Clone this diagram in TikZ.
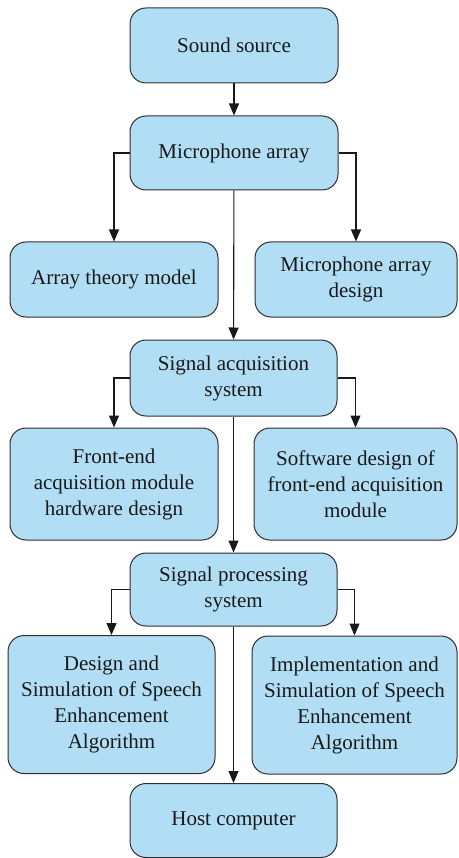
\documentclass[tikz,border=0pt]{standalone}
\usepackage{fontspec}
\setmainfont{Liberation Serif}
\usepackage{xcolor}
\usepackage{tikz}
\usetikzlibrary{arrows.meta, positioning, calc}
\definecolor{boxblue}{RGB}{178, 222, 245}
\definecolor{edgegray}{RGB}{45, 45, 45}

\begin{document}
\begin{tikzpicture}[
  x=1pt, y=-1pt,
  every node/.style={font=\fontsize{21}{26}\selectfont, text=black!90},
  block/.style={draw=edgegray, line width=1pt, fill=boxblue, rounded corners=16pt, align=center, inner sep=3pt},
  arrow/.style={-{Triangle[length=12pt, width=10pt]}, line width=1.1pt, color=black!90}
]
  \useasboundingbox (0,0) rectangle (458,858);

  % Colonna centrale
  \node[block, minimum width=208pt, minimum height=75pt] (src) at (234, 45.5) {Sound source};
  \node[block, minimum width=208pt, minimum height=74pt] (mic) at (234, 153) {Microphone array};
  \node[block, minimum width=207pt, minimum height=76pt] (sas) at (233.5, 378) {Signal acquisition\\system};
  \node[block, minimum width=207pt, minimum height=73pt] (sps) at (233.5, 589.5) {Signal processing\\system};
  \node[block, minimum width=207pt, minimum height=74pt] (host) at (233.5, 820.5) {Host computer};

  % Riga 1
  \node[block, minimum width=208pt, minimum height=75pt] (atm) at (114, 279.5) {Array theory model};
  \node[block, minimum width=202pt, minimum height=75pt] (mad) at (356, 279.5) {Microphone array\\design};

  % Riga 2
  \node[block, minimum width=208pt, minimum height=112pt] (fe) at (114, 484) {Front-end\\acquisition module\\hardware design};
  \node[block, minimum width=203pt, minimum height=112pt] (sw) at (355.5, 484) {Software design of\\front-end acquisition\\module};

  % Riga 3
  \node[block, minimum width=207pt, minimum height=138pt] (dsa) at (111.5, 704.5) {Design and\\Simulation of Speech\\Enhancement\\Algorithm};
  \node[block, minimum width=205pt, minimum height=138pt] (isa) at (354.5, 705) {Implementation and\\Simulation of Speech\\Enhancement\\Algorithm};

  % Frecce
  \draw[arrow] (src) -- (mic);
  \draw[arrow] (mic) -- (sas);
  \draw[arrow] (sas) -- (sps);
  \draw[arrow] (sps) -- (host);

  \draw[arrow] (mic.west) -| (atm.north);
  \draw[arrow] (mic.east) -| (mad.north);
  \draw[arrow] (sas.west) -| (fe.north);
  \draw[arrow] (sas.east) -| (sw.north);
  \draw[arrow] (sps.west) -| (dsa.north);
  \draw[arrow] (sps.east) -| (isa.north);

\end{tikzpicture}
\end{document}
